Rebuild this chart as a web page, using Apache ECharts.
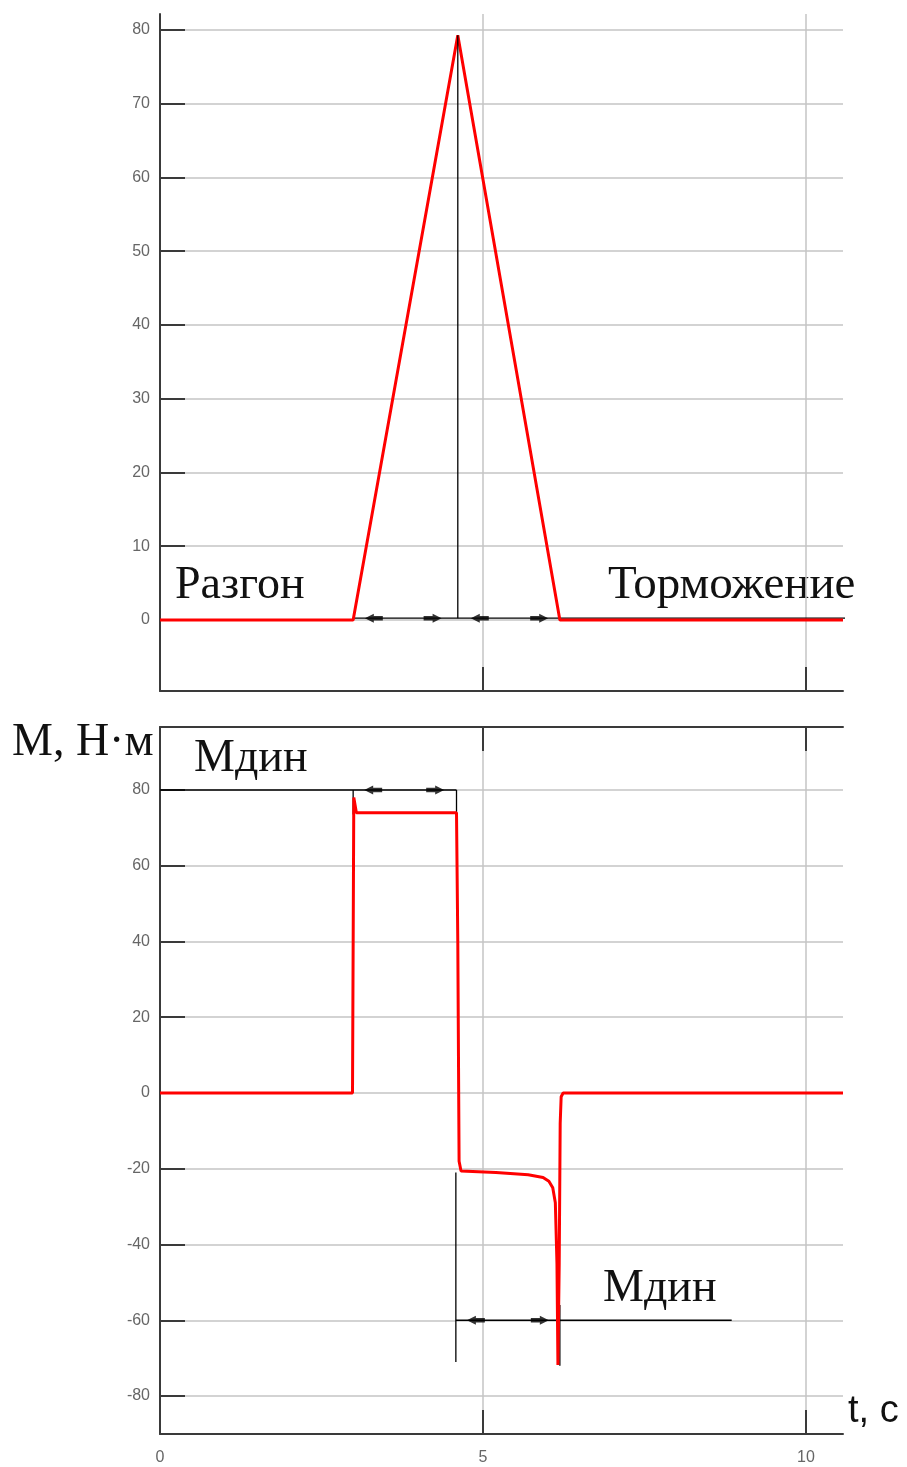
<!DOCTYPE html>
<html>
<head>
<meta charset="utf-8">
<script src="https://cdn.jsdelivr.net/npm/echarts@6/dist/echarts.min.js"></script>
<style>
html, body { margin: 0; padding: 0; background: #fff; }
#chart { width: 907px; height: 1467px; }
</style>
</head>
<body>
<div id="chart"></div>
<script>
// верхний график (скорость)
var timeTop = [0, 2.99, 4.61, 6.19, 10.573];
var speedTop = [0, 0, 79.3, 0, 0];
// нижний график (момент)
var timeBottom = [0, 2.98, 3.0, 3.04, 4.59, 4.61, 4.63, 4.66, 5.2, 5.7, 5.93, 6.02, 6.08, 6.12, 6.145, 6.16, 6.18, 6.195, 6.21, 6.24, 10.573];
var torqueBottom = [0, 0, 78, 74, 74, 40, -18, -20.6, -21.0, -21.6, -22.3, -23.3, -25, -29, -45, -71.8, -45, -8, -1, 0, 0];
// подписи осей
var topTicks = [0, 10, 20, 30, 40, 50, 60, 70, 80];
var bottomTicks = [-80, -60, -40, -20, 0, 20, 40, 60, 80];
var timeTicks = [0, 5, 10];
var innerTicks = [5, 10];
// размерные линии (время, значение)
var topDimLine = [[2.99, 0.25], [10.99, 0.25]];
var topPeakLine = [[4.61, 79.3], [4.61, 0.25]];
var topArrows = [[3.31, 0.25, 180], [4.22, 0.25, 0], [4.95, 0.25, 180], [5.87, 0.25, 0]];
var upDimLine = [[0, 80], [4.59, 80]];
var upExt1 = [[2.99, 80], [2.99, 73.5]];
var upExt2 = [[4.59, 80], [4.59, 73.5]];
var upArrows = [[3.30, 80, 180], [4.26, 80, 0]];
var lowDimLine = [[4.58, -60], [8.85, -60]];
var lowExt1 = [[4.58, -21], [4.58, -71]];
var lowExt2 = [[6.19, -56], [6.19, -72]];
var lowArrows = [[4.89, -60, 180], [5.88, -60, 0]];

var myChart = echarts.init(document.getElementById('chart'));

function zip(xs, ys) {
    var out = [];
    for (var i = 0; i < xs.length; i++) out.push([xs[i], ys[i]]);
    return out;
}
var axisColor = '#3a3a3a';
var gridColor = '#c4c4c4';
var arrowPath = 'path://M0,2.5L9,2.5L9,0L18,5L9,10L9,7.5L0,7.5Z';

function blackLine(data, xi, yi) {
    return {
        type: 'line', xAxisIndex: xi, yAxisIndex: yi, data: data,
        symbol: 'none', clip: false, silent: true, z: 3,
        lineStyle: { color: '#000', width: 1.3 }
    };
}
function arrows(list, xi, yi) {
    return {
        type: 'scatter', xAxisIndex: xi, yAxisIndex: yi, silent: true, z: 5,
        symbol: arrowPath, symbolSize: [18, 9],
        itemStyle: { color: '#000' },
        data: list.map(function (a) { return { value: [a[0], a[1]], symbolRotate: a[2] }; })
    };
}
function xAxisCommon(grid, showLabels, pos) {
    return {
        type: 'value', gridIndex: grid, min: 0, max: 10.573, interval: 5, position: pos,
        axisLine: { show: true, onZero: false, lineStyle: { color: axisColor, width: 2 } },
        axisTick: { show: true, inside: true, length: 24, customValues: innerTicks, lineStyle: { color: axisColor, width: 2 } },
        axisLabel: { show: showLabels, customValues: timeTicks, margin: 16, color: '#666', fontSize: 16, fontFamily: 'Liberation Sans' },
        splitLine: { show: pos === 'bottom', showMinLine: true, showMaxLine: true, lineStyle: { color: gridColor, width: 1.5 } }
    };
}
function yAxisCommon(grid, min, max, ticks) {
    return {
        type: 'value', gridIndex: grid, min: min, max: max, splitNumber: 9,
        axisLine: { show: true, onZero: false, lineStyle: { color: axisColor, width: 2 } },
        axisTick: { show: true, inside: true, length: 25, customValues: ticks, lineStyle: { color: axisColor, width: 2 } },
        axisLabel: { customValues: ticks, margin: 10, color: '#666', fontSize: 16, fontFamily: 'Liberation Sans' },
        splitLine: { show: true, showMinLine: true, showMaxLine: true, lineStyle: { color: gridColor, width: 1.5 } }
    };
}

var serifText = { fontFamily: 'Liberation Serif', fontSize: 46, fill: '#111', verticalAlign: 'middle' };

var option = {
    backgroundColor: '#fff',
    animation: false,
    grid: [
        { left: 160, top: 14, width: 683, height: 677, outerBoundsMode: 'none' },
        { left: 160, top: 727, width: 683, height: 707, outerBoundsMode: 'none' }
    ],
    xAxis: [
        xAxisCommon(0, false, 'bottom'),
        xAxisCommon(1, true, 'bottom'),
        xAxisCommon(1, false, 'top')
    ],
    yAxis: [
        yAxisCommon(0, -9.63, 82.17, topTicks),
        yAxisCommon(1, -90.03, 96.63, bottomTicks)
    ],
    series: [
        blackLine(topDimLine, 0, 0),
        arrows(topArrows, 0, 0),
        blackLine(upDimLine, 1, 1),
        blackLine(upExt1, 1, 1),
        blackLine(upExt2, 1, 1),
        arrows(upArrows, 1, 1),
        blackLine(lowDimLine, 1, 1),
        blackLine(lowExt1, 1, 1),
        blackLine(lowExt2, 1, 1),
        arrows(lowArrows, 1, 1),
        {
            type: 'line', xAxisIndex: 0, yAxisIndex: 0, data: zip(timeTop, speedTop),
            symbol: 'none', z: 4, lineStyle: { color: '#ff0000', width: 3 }
        },
        {
            type: 'line', xAxisIndex: 1, yAxisIndex: 1, data: zip(timeBottom, torqueBottom),
            symbol: 'none', z: 4, lineStyle: { color: '#ff0000', width: 3 }
        },
        Object.assign(blackLine(topPeakLine, 0, 0), { z: 6 })
    ],
    graphic: [
        { type: 'text', x: 175, y: 586, style: Object.assign({}, serifText, { text: 'Разгон' }) },
        { type: 'text', x: 608, y: 586, style: Object.assign({}, serifText, { text: 'Торможение', fontSize: 47 }) },
        { type: 'text', x: 194, y: 759, style: Object.assign({}, serifText, { text: 'Мдин' }) },
        { type: 'text', x: 603, y: 1289, style: Object.assign({}, serifText, { text: 'Мдин' }) },
        { type: 'text', x: 12, y: 743, style: Object.assign({}, serifText, { text: 'М, Н·м' }) },
        { type: 'text', x: 848, y: 1412, style: { text: 't, c', fontFamily: 'Liberation Sans', fontSize: 38, fill: '#111', verticalAlign: 'middle' } }
    ]
};
myChart.setOption(option);
</script>
</body>
</html>
